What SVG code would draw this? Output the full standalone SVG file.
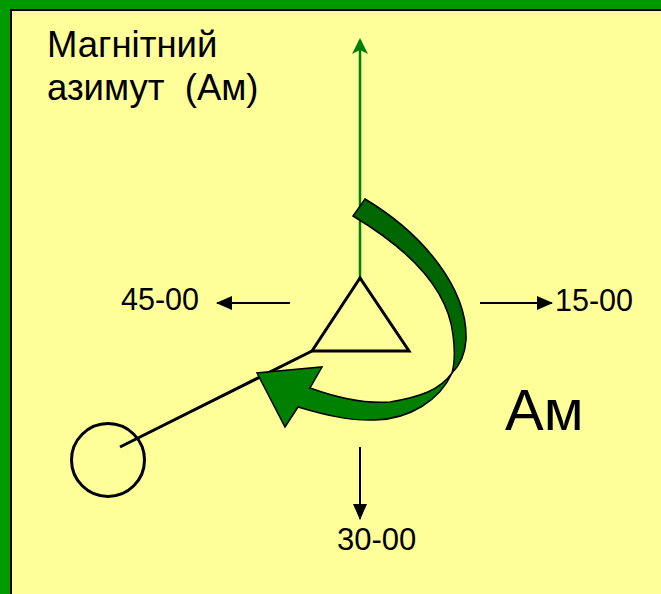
<svg xmlns="http://www.w3.org/2000/svg" width="661" height="594" viewBox="0 0 661 594">
<defs>
<style>
.t{font-family:"Liberation Sans",Arial,sans-serif;fill:#000;white-space:pre}
.ln{stroke:#000;stroke-width:2;fill:none}
</style>
<marker id="ah" viewBox="0 0 16 14" refX="15" refY="7" markerWidth="16" markerHeight="14" markerUnits="userSpaceOnUse" orient="auto">
<path d="M0,0 L16,7 L0,14 Z" fill="#000"/>
</marker>
<marker id="gh" viewBox="0 0 16 16" refX="14" refY="8" markerWidth="16" markerHeight="16" markerUnits="userSpaceOnUse" orient="auto">
<path d="M0,0 L16,8 L0,16 L4,8 Z" fill="#008000"/>
</marker>
</defs>
<rect width="661" height="594" fill="#009900"/>
<rect x="11" y="10" width="660" height="594" fill="#FFFF99" stroke="#000" stroke-width="2"/>
<g id="title"><text class="t" x="47" y="57" font-size="36.5">Магнітний</text>
<text class="t" x="47" y="100" font-size="36.5">азимут  (Ам)</text></g>
<g id="connectors">
<line x1="360" y1="278" x2="360" y2="40" stroke="#008000" stroke-width="2.5" marker-end="url(#gh)"/>
<line class="ln" x1="290" y1="303" x2="217" y2="303" marker-end="url(#ah)"/>
<line class="ln" x1="480" y1="303" x2="552" y2="303" marker-end="url(#ah)"/>
<line class="ln" x1="360" y1="447" x2="360" y2="519" marker-end="url(#ah)"/>
<line x1="312" y1="351" x2="120" y2="447" stroke="#000" stroke-width="3"/>
</g>
<g id="triangle"><polygon points="360,278 312,351 409,351" fill="none" stroke="#000" stroke-width="3" stroke-linejoin="miter"/></g>
<g id="circle"><circle cx="108" cy="460" r="36.5" fill="none" stroke="#000" stroke-width="3"/></g>
<g id="arc">
<path d="M365,199 C425,235 468,290 466,340 C465,355 460,365 452,373 C455,362 455,350 453,335 C448,290 410,250 353,216 Z" fill="#006600" stroke="#000" stroke-width="1.5"/>
<path d="M452,373 C440,390 420,397 390,402 C365,404 335,397 310,388 L322,367 L257,373 L285,427 L298,407 C325,415 350,421 375,420 C410,419 440,400 452,373 Z" fill="#008000" stroke="#000" stroke-width="1.5" stroke-linejoin="miter"/>
</g>
<g id="labels">
<text class="t" x="121" y="310" font-size="30.5">45-00</text>
<text class="t" x="555" y="311" font-size="30.5">15-00</text>
<text class="t" x="337" y="550" font-size="31">30-00</text>
<text class="t" x="505" y="430" font-size="58">Ам</text>
</g>
</svg>
